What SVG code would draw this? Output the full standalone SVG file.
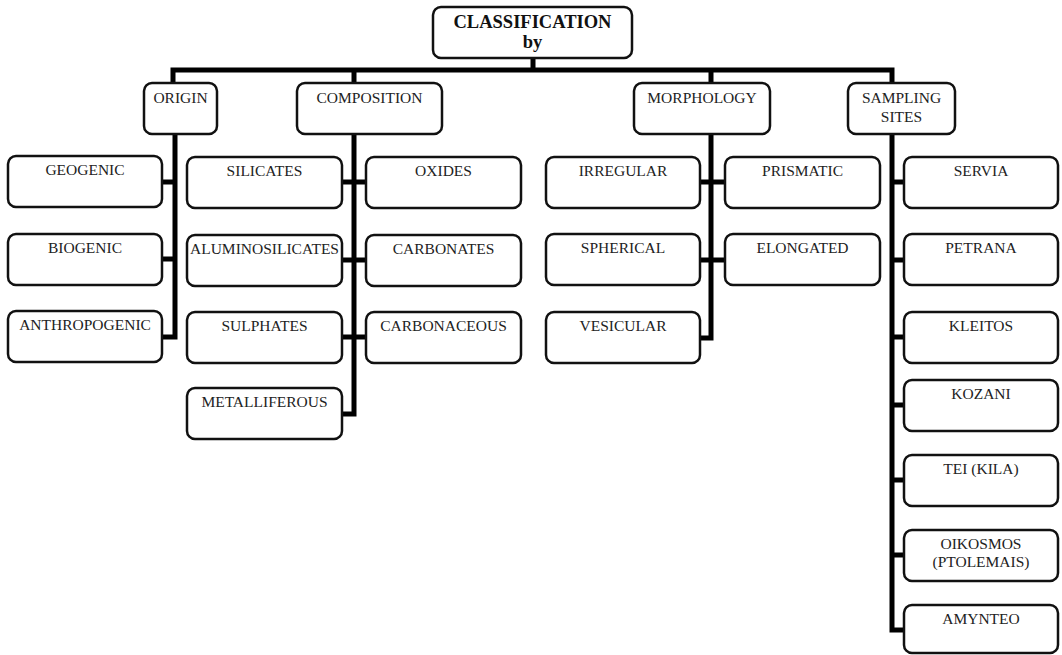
<svg xmlns="http://www.w3.org/2000/svg" width="1062" height="655" viewBox="0 0 1062 655">
<style>
.box{fill:#fff;stroke:#111;stroke-width:2.5}
.t{font-family:"Liberation Serif","Times New Roman",serif;font-size:15.5px;fill:#222;text-anchor:middle}
.tb{font-family:"Liberation Serif","Times New Roman",serif;font-size:18.5px;font-weight:bold;fill:#111;text-anchor:middle}
.c{fill:none;stroke:#000;stroke-width:5;stroke-linejoin:miter}
</style>
<rect width="1062" height="655" fill="#fff"/>
<g id="connectors">
<path class="c" d="M533 58V70M173 83V70H892V83M354 70V83M711 70V83"/>
<path class="c" d="M175 134V337H162M162 182H175M162 259H175"/>
<path class="c" d="M354 134V414H342M342 182H366M342 260H366M342 337H366"/>
<path class="c" d="M711 134V338H700M700 182H725M700 260H725"/>
<path class="c" d="M892 134V630H904M892 182H904M892 260H904M892 337H904M892 405H904M892 480H904M892 555H904"/>
</g>
<g id="classification"><rect class="box" x="433" y="7" width="199" height="51" rx="8"/><text class="tb" x="532.5" y="28">CLASSIFICATION</text><text class="tb" x="532.5" y="48">by</text></g>
<g id="origin"><rect class="box" x="144" y="83" width="73" height="51" rx="8"/><text class="t" x="180.5" y="103">ORIGIN</text></g>
<g id="composition"><rect class="box" x="297" y="83" width="145" height="51" rx="8"/><text class="t" x="369.5" y="103">COMPOSITION</text></g>
<g id="morphology"><rect class="box" x="634" y="83" width="136" height="51" rx="8"/><text class="t" x="702" y="103">MORPHOLOGY</text></g>
<g id="sampling"><rect class="box" x="848" y="83" width="107" height="51" rx="8"/><text class="t" x="901.5" y="103">SAMPLING</text><text class="t" x="901.5" y="122">SITES</text></g>
<g id="geogenic"><rect class="box" x="8" y="156" width="154" height="51" rx="8"/><text class="t" x="85" y="175">GEOGENIC</text></g>
<g id="biogenic"><rect class="box" x="8" y="234" width="154" height="51" rx="8"/><text class="t" x="85" y="253">BIOGENIC</text></g>
<g id="anthropogenic"><rect class="box" x="8" y="311" width="154" height="51" rx="8"/><text class="t" x="85" y="330">ANTHROPOGENIC</text></g>
<g id="silicates"><rect class="box" x="187" y="157" width="155" height="51" rx="8"/><text class="t" x="264.5" y="176">SILICATES</text></g>
<g id="aluminosilicates"><rect class="box" x="187" y="235" width="155" height="51" rx="8"/><text class="t" x="264.5" y="254">ALUMINOSILICATES</text></g>
<g id="sulphates"><rect class="box" x="187" y="312" width="155" height="51" rx="8"/><text class="t" x="264.5" y="331">SULPHATES</text></g>
<g id="metalliferous"><rect class="box" x="187" y="388" width="155" height="51" rx="8"/><text class="t" x="264.5" y="407">METALLIFEROUS</text></g>
<g id="oxides"><rect class="box" x="366" y="157" width="155" height="51" rx="8"/><text class="t" x="443.5" y="176">OXIDES</text></g>
<g id="carbonates"><rect class="box" x="366" y="235" width="155" height="51" rx="8"/><text class="t" x="443.5" y="254">CARBONATES</text></g>
<g id="carbonaceous"><rect class="box" x="366" y="312" width="155" height="51" rx="8"/><text class="t" x="443.5" y="331">CARBONACEOUS</text></g>
<g id="irregular"><rect class="box" x="546" y="157" width="154" height="51" rx="8"/><text class="t" x="623" y="176">IRREGULAR</text></g>
<g id="spherical"><rect class="box" x="546" y="234" width="154" height="51" rx="8"/><text class="t" x="623" y="253">SPHERICAL</text></g>
<g id="vesicular"><rect class="box" x="546" y="312" width="154" height="51" rx="8"/><text class="t" x="623" y="331">VESICULAR</text></g>
<g id="prismatic"><rect class="box" x="725" y="157" width="155" height="51" rx="8"/><text class="t" x="802.5" y="176">PRISMATIC</text></g>
<g id="elongated"><rect class="box" x="725" y="234" width="155" height="51" rx="8"/><text class="t" x="802.5" y="253">ELONGATED</text></g>
<g id="servia"><rect class="box" x="904" y="157" width="154" height="51" rx="8"/><text class="t" x="981" y="176">SERVIA</text></g>
<g id="petrana"><rect class="box" x="904" y="234" width="154" height="51" rx="8"/><text class="t" x="981" y="253">PETRANA</text></g>
<g id="kleitos"><rect class="box" x="904" y="312" width="154" height="51" rx="8"/><text class="t" x="981" y="331">KLEITOS</text></g>
<g id="kozani"><rect class="box" x="904" y="380" width="154" height="51" rx="8"/><text class="t" x="981" y="399">KOZANI</text></g>
<g id="tei"><rect class="box" x="904" y="455" width="154" height="51" rx="8"/><text class="t" x="981" y="474">TEI (KILA)</text></g>
<g id="oikosmos"><rect class="box" x="904" y="530" width="154" height="51" rx="8"/><text class="t" x="981" y="549">OIKOSMOS</text><text class="t" x="981" y="567">(PTOLEMAIS)</text></g>
<g id="amynteo"><rect class="box" x="904" y="605" width="154" height="48" rx="8"/><text class="t" x="981" y="624">AMYNTEO</text></g>
</svg>
